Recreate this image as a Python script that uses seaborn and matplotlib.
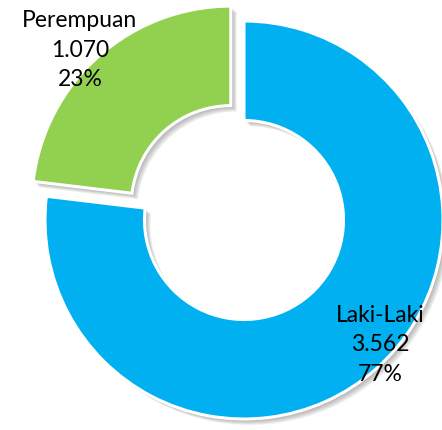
import matplotlib

matplotlib.use("Agg")
import matplotlib.pyplot as plt
import numpy as np
import seaborn as sns
from matplotlib.patches import Wedge

# data
categories = ["Laki-Laki", "Perempuan"]
counts = [3562, 1070]
colors = ["#00B0F0", "#92D050"]
explode = [0.0, 0.1]

sns.set_theme(style="white")
plt.rcParams["font.family"] = ["Lato", "DejaVu Sans"]

fig = plt.figure(figsize=(4.42, 4.31), dpi=100)
ax = fig.add_axes([0, 0, 1, 1])

total = sum(counts)
pct = [round(100 * c / total) for c in counts]

wedges, _ = ax.pie(
    counts,
    colors=colors,
    explode=explode,
    startangle=90,
    counterclock=False,
    radius=1.0,
    wedgeprops=dict(width=0.5, edgecolor="white", linewidth=2.2),
)

# soft drop shadow to the lower right, built from stacked translucent copies
for w in wedges:
    w.set_zorder(3)
    for k in range(1, 7):
        d = 0.005 * k
        sh = Wedge(
            (w.center[0] + d, w.center[1] - d),
            w.r,
            w.theta1,
            w.theta2,
            width=w.width,
            facecolor="0.3",
            edgecolor="none",
            alpha=0.09,
            zorder=2,
        )
        ax.add_patch(sh)

# labels: name, count with dot separator, percentage
label_radius = [0.925, 1.09]
angle_shift = [6.2, 2.5]
for w, name, c, p, r, s in zip(wedges, categories, counts, pct, label_radius, angle_shift):
    mid = np.deg2rad((w.theta1 + w.theta2) / 2 + s)
    x = w.center[0] + r * np.cos(mid)
    y = w.center[1] + r * np.sin(mid)
    txt = f"{name}\n{c:,}".replace(",", ".") + f"\n{p}%"
    ax.text(x, y, txt, ha="center", va="center", fontsize=16.5,
            linespacing=1.5, color="black", zorder=5)

ax.set_xlim(-244 / 199, (442 - 244) / 199)
ax.set_ylim(-(431 - 221) / 199, 221 / 199)
ax.set_aspect("auto")
ax.axis("off")

fig.savefig("out.png", dpi=100)
